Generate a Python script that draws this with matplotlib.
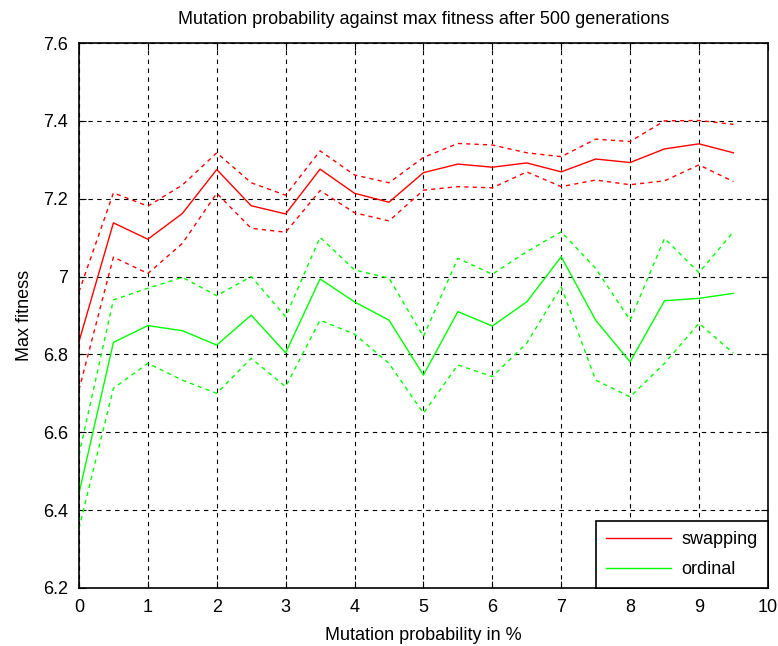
import matplotlib
matplotlib.use("Agg")
import matplotlib.pyplot as plt
import numpy as np

plt.rcParams['font.family'] = ['Liberation Sans Narrow', 'Liberation Sans', 'DejaVu Sans']

# mutation probability in %
mut_prob = [0, 0.5, 1, 1.5, 2, 2.5, 3, 3.5, 4, 4.5,
            5, 5.5, 6, 6.5, 7, 7.5, 8, 8.5, 9, 9.5]

# swapping crossover: mean and bounds
swap_mean = [6.833, 7.138, 7.096, 7.162, 7.275, 7.182, 7.161, 7.276, 7.214, 7.191,
             7.267, 7.289, 7.281, 7.292, 7.269, 7.302, 7.293, 7.328, 7.341, 7.318]
swap_upper = [6.961, 7.215, 7.181, 7.235, 7.318, 7.241, 7.209, 7.323, 7.261, 7.241,
              7.306, 7.342, 7.338, 7.318, 7.308, 7.353, 7.347, 7.400, 7.401, 7.391]
swap_lower = [6.709, 7.050, 7.008, 7.085, 7.214, 7.124, 7.114, 7.221, 7.164, 7.143,
              7.222, 7.231, 7.228, 7.269, 7.231, 7.248, 7.236, 7.246, 7.287, 7.244]

# ordinal crossover: mean and bounds
ord_mean = [6.443, 6.831, 6.874, 6.861, 6.824, 6.901, 6.804, 6.994, 6.935, 6.888,
            6.747, 6.910, 6.873, 6.935, 7.051, 6.888, 6.781, 6.938, 6.944, 6.957]
ord_upper = [6.542, 6.940, 6.970, 6.998, 6.951, 7.000, 6.897, 7.101, 7.017, 6.996,
             6.846, 7.047, 7.006, 7.064, 7.115, 7.021, 6.888, 7.098, 7.010, 7.115]
ord_lower = [6.353, 6.713, 6.777, 6.734, 6.700, 6.790, 6.717, 6.888, 6.852, 6.777,
             6.649, 6.773, 6.743, 6.829, 6.974, 6.734, 6.691, 6.777, 6.880, 6.803]

red = '#ff0000'
green = '#00ff00'
dash = (0, (3, 3))

fig = plt.figure(figsize=(7.78, 6.46), dpi=100)
ax = fig.add_axes([0.1015, 0.0898, 0.8855, 0.8436])

ax.plot(mut_prob, swap_mean, color=red, lw=1, label='swapping')
ax.plot(mut_prob, ord_mean, color=green, lw=1, label='ordinal')
ax.plot(mut_prob, swap_upper, color=red, lw=1, ls=dash)
ax.plot(mut_prob, swap_lower, color=red, lw=1, ls=dash)
ax.plot(mut_prob, ord_upper, color=green, lw=1, ls=dash)
ax.plot(mut_prob, ord_lower, color=green, lw=1, ls=dash)

ax.set_xlim(0, 10)
ax.set_ylim(6.2, 7.6)
ax.set_xticks(np.arange(0, 11, 1))
ax.set_yticks([6.2, 6.4, 6.6, 6.8, 7.0, 7.2, 7.4, 7.6])
ax.set_yticklabels(['6.2', '6.4', '6.6', '6.8', '7', '7.2', '7.4', '7.6'])
ax.grid(True, color='black', ls=(0, (4, 4)), lw=0.8)
ax.tick_params(direction='in', top=True, right=True, labelsize=13, length=5,
               colors='black', pad=8)
for s in ax.spines.values():
    s.set_linewidth(1.2)

ax.set_title('Mutation probability against max fitness after 500 generations', fontsize=13, pad=14)
ax.set_xlabel('Mutation probability in %', fontsize=13, labelpad=8)
ax.set_ylabel('Max fitness', fontsize=13, labelpad=7)

leg = ax.legend(loc='lower right', fontsize=13, frameon=True, fancybox=False,
                borderaxespad=0, handlelength=3.6, handletextpad=0.6,
                edgecolor='black', framealpha=1, labelspacing=0.7, borderpad=0.55)
leg.get_frame().set_linewidth(1.2)

fig.savefig('out.png', dpi=100)
